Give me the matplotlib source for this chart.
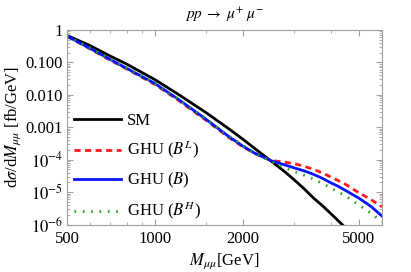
import numpy as np
import matplotlib
matplotlib.use('Agg')
import matplotlib.pyplot as plt
import matplotlib as mpl
from matplotlib.ticker import FixedLocator, FixedFormatter, LogLocator, NullFormatter

mpl.rc('font', size=12, family='Liberation Serif')
mpl.rc('mathtext', fontset='stix')

# invariant mass [GeV]
mass = [500, 600, 700, 800, 1000, 1200, 1500, 1800, 2000, 2200, 2500,
        2800, 3000, 3250, 3500, 3750, 4000, 4250, 4500, 5000, 5500, 6000]

# dsigma/dM [fb/GeV]
sm = [6.8e-1, 3.3e-1, 1.6e-1, 8.9e-2, 2.95e-2, 1.05e-2, 2.8e-3, 8.7e-4,
      4.3e-4, 2.2e-4, 9.1e-5, 4.1e-5, 2.4e-5, 1.25e-5, 6.5e-6, 3.8e-6,
      2.2e-6, 1.3e-6, 7.9e-7, 3.0e-7, 1.2e-7, 5.0e-8]
ghu_b = [6.5e-1, 2.7e-1, 1.26e-1, 6.6e-2, 2.24e-2, 7.4e-3, 1.74e-3, 5.0e-4,
         2.63e-4, 1.58e-4, 9.3e-5, 6.8e-5, 5.6e-5, 4.5e-5, 3.5e-5, 2.65e-5,
         1.95e-5, 1.5e-5, 1.12e-5, 6.5e-6, 3.6e-6, 1.82e-6]
ghu_bl = [6.4e-1, 2.6e-1, 1.2e-1, 6.3e-2, 2.1e-2, 6.9e-3, 1.62e-3, 4.7e-4,
          2.5e-4, 1.55e-4, 9.5e-5, 8.3e-5, 7.6e-5, 6.2e-5, 5.0e-5, 3.9e-5,
          2.95e-5, 2.25e-5, 1.74e-5, 9.5e-6, 5.9e-6, 3.5e-6]
ghu_bh = [6.6e-1, 2.8e-1, 1.3e-1, 6.8e-2, 2.3e-2, 7.6e-3, 1.8e-3, 5.2e-4,
          2.73e-4, 1.6e-4, 8.7e-5, 5.6e-5, 4.3e-5, 3.3e-5, 2.5e-5, 1.85e-5,
          1.35e-5, 1.0e-5, 7.6e-6, 4.0e-6, 2.24e-6, 1.2e-6]

fig = plt.figure(figsize=(4.11, 2.72), dpi=100)
ax = fig.add_axes([67/411, 1 - 224.5/272, 315/411, 194.5/272])

ax.plot(mass, sm, color='k', lw=2.0, label='SM')
ax.plot(mass, ghu_bl, color='#ff1a1a', lw=2.0, ls=(0, (2.2, 1.6)), label=r'GHU ($B^L$)')
ax.plot(mass, ghu_b, color='#0a14ff', lw=2.0, label=r'GHU ($B$)')
ax.plot(mass, ghu_bh, color='#1fa81f', lw=2.0, ls=(0, (0.6, 2.4)), label=r'GHU ($B^H$)')

ax.set_xscale('log')
ax.set_yscale('log')
ax.set_xlim(500, 6000)
ax.set_ylim(1e-6, 1)

ax.xaxis.set_major_locator(FixedLocator([500, 1000, 2000, 5000]))
ax.xaxis.set_major_formatter(FixedFormatter(['500', '1000', '2000', '5000']))
ax.xaxis.set_minor_locator(FixedLocator([600, 700, 800, 900, 1500, 3000, 4000, 6000]))
ax.xaxis.set_minor_formatter(NullFormatter())

yt = [1e-6, 1e-5, 1e-4, 1e-3, 1e-2, 1e-1, 1]
ax.yaxis.set_major_locator(FixedLocator(yt))
ax.yaxis.set_major_formatter(FixedFormatter([r'$10^{-6}$', r'$10^{-5}$', r'$10^{-4}$',
                                             '0.001', '0.010', '0.100', '1']))
ax.yaxis.set_minor_locator(LogLocator(base=10, subs=np.arange(2, 10), numticks=20))
ax.yaxis.set_minor_formatter(NullFormatter())

for s in ax.spines.values():
    s.set_color('#a0a0a0')
ax.tick_params(which='both', direction='in', top=True, right=True, color='#a0a0a0')
ax.tick_params(which='major', length=4, width=0.8, pad=3)
ax.tick_params(axis='x', which='major', pad=5)
ax.tick_params(which='minor', length=2, width=0.6)

ax.set_title(r'$pp\;\rightarrow\;\mu^{+}\;\mu^{-}$', fontsize=11, pad=8)
ax.set_xlabel(r'$M_{\mu\mu}$[GeV]', labelpad=3)
ax.set_ylabel(r'd$\sigma$/d$M_{\mu\mu}$ [fb/GeV]', labelpad=2)

ax.legend(loc='upper left', bbox_to_anchor=(74/411, 1 - 113/272), bbox_transform=fig.transFigure,
          frameon=False, borderpad=0, borderaxespad=0, handlelength=2.8, handletextpad=0.4,
          labelspacing=0.6)

plt.savefig('out.png', dpi=100)
